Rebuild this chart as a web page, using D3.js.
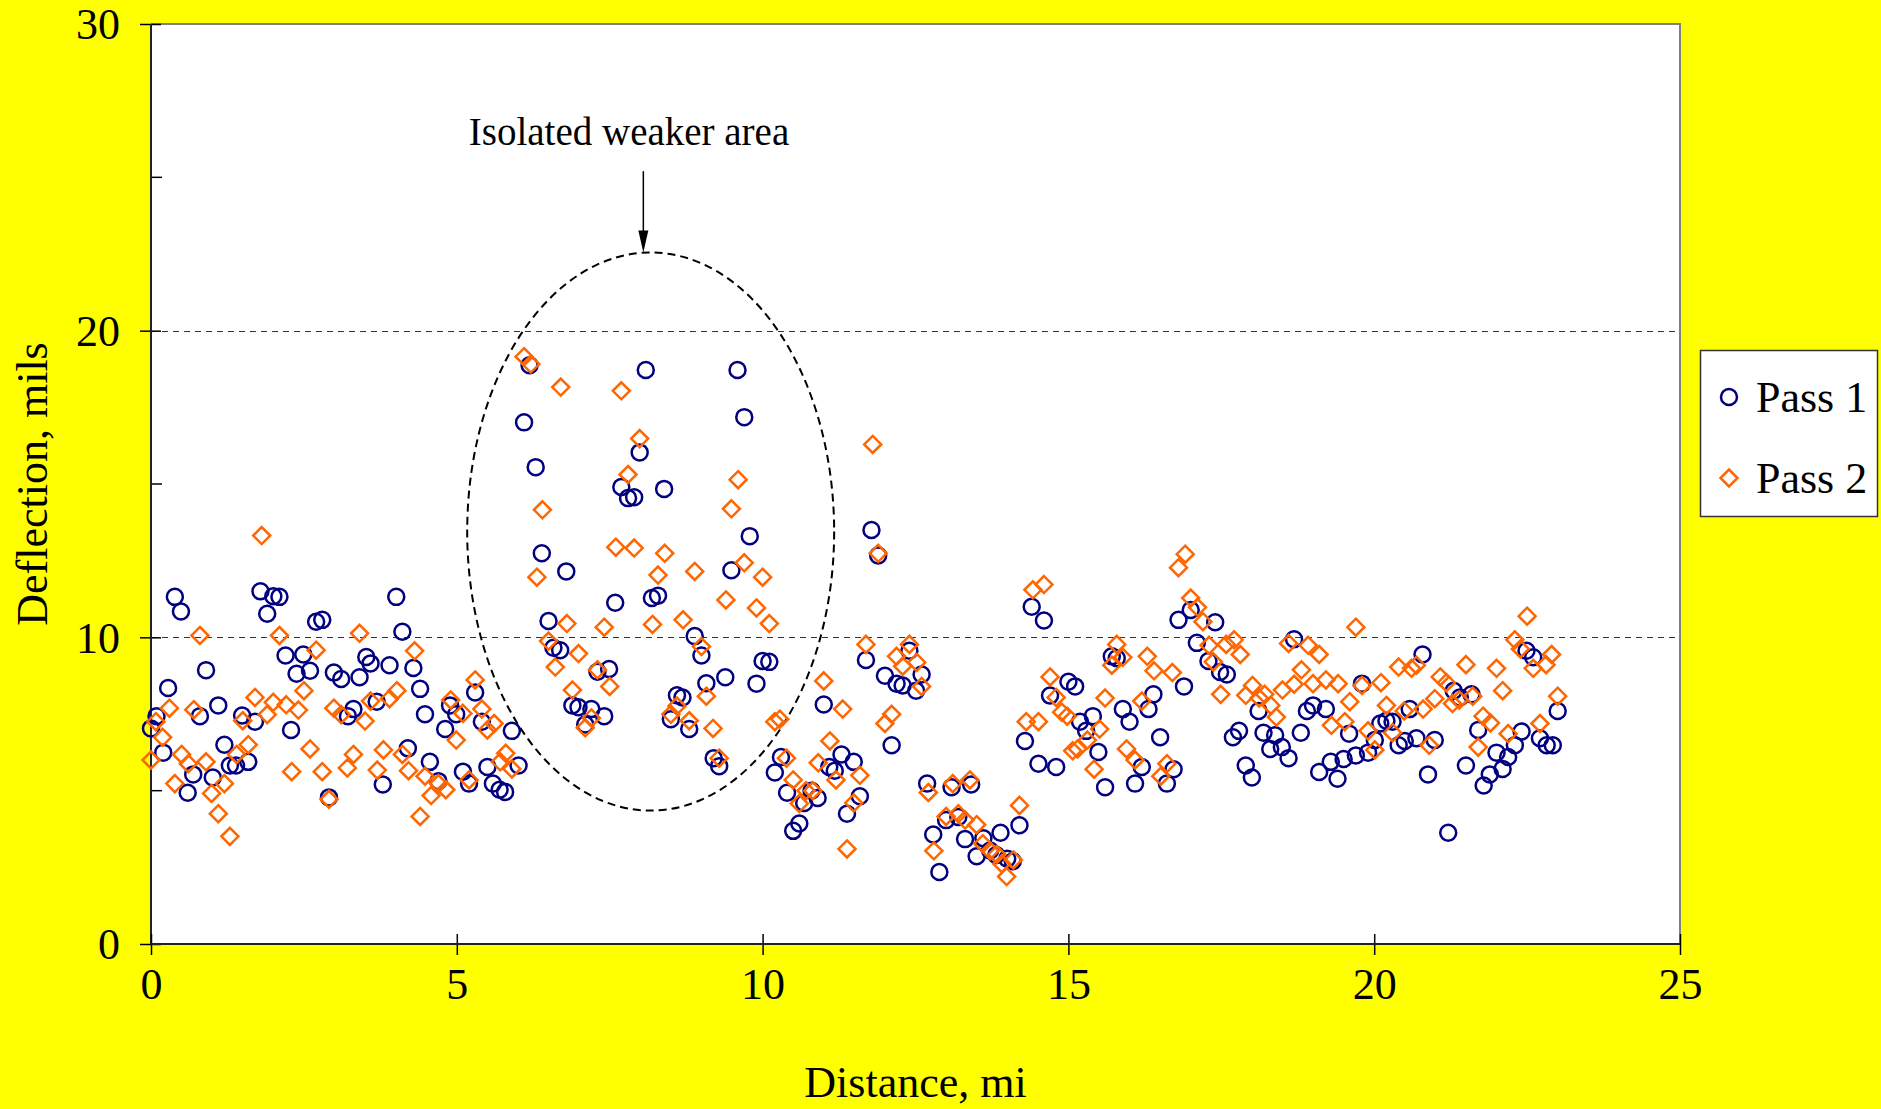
<!DOCTYPE html>
<html>
<head>
<meta charset="utf-8">
<script src="https://cdn.jsdelivr.net/npm/d3@7"></script>
<style>
  html, body { margin: 0; padding: 0; background: #ffff00; }
  svg { display: block; }
  text { font-family: "Liberation Serif", "Times New Roman", serif; fill: #000; }
</style>
</head>
<body>
<svg id="chart" width="1881" height="1109"></svg>
<script>
// Falling-weight deflection along the route, two passes
const pass1Distance = [0.0,0.09,0.2,0.28,0.39,0.49,0.6,0.69,0.8,0.9,1.01,1.1,1.2,1.29,1.39,1.49,1.59,1.7,1.79,1.9,2.0,2.1,2.2,2.29,2.38,2.49,2.6,2.7,2.8,2.91,2.99,3.11,3.22,3.31,3.41,3.52,3.59,3.69,3.79,3.9,4.01,4.11,4.2,4.29,4.4,4.48,4.56,4.7,4.81,4.89,4.99,5.1,5.2,5.3,5.41,5.5,5.59,5.7,5.79,5.9,6.01,6.1,6.19,6.29,6.39,6.5,6.58,6.69,6.79,6.89,6.99,7.1,7.2,7.3,7.41,7.49,7.59,7.69,7.8,7.9,7.99,8.09,8.19,8.29,8.39,8.5,8.6,8.69,8.8,8.89,9.0,9.08,9.2,9.29,9.39,9.49,9.59,9.7,9.79,9.9,10.0,10.11,10.2,10.3,10.4,10.5,10.6,10.68,10.8,10.9,11.0,11.09,11.18,11.29,11.38,11.49,11.59,11.69,11.78,11.89,12.0,12.11,12.19,12.29,12.4,12.51,12.6,12.69,12.79,12.89,13.0,13.09,13.2,13.31,13.41,13.5,13.61,13.72,13.82,13.89,14.0,14.09,14.2,14.29,14.4,14.51,14.6,14.7,14.8,15.0,15.11,15.19,15.29,15.4,15.49,15.6,15.71,15.79,15.89,16.0,16.09,16.2,16.31,16.39,16.5,16.61,16.72,16.8,16.89,17.0,17.1,17.29,17.4,17.48,17.59,17.69,17.79,17.9,18.0,18.11,18.19,18.3,18.38,18.49,18.6,18.69,18.8,18.9,19.0,19.1,19.21,19.29,19.4,19.5,19.59,19.7,19.8,19.9,20.01,20.1,20.2,20.3,20.4,20.5,20.58,20.69,20.79,20.88,20.99,21.21,21.3,21.4,21.5,21.59,21.7,21.79,21.89,22.0,22.1,22.19,22.3,22.41,22.49,22.6,22.71,22.82,22.92,23.0];
const pass1Deflection = [7.03,7.43,6.24,8.35,11.32,10.84,4.93,5.53,7.43,8.93,5.43,7.78,6.5,5.82,5.82,7.45,5.94,7.25,11.5,10.77,11.34,11.32,9.41,6.98,8.81,9.44,8.91,10.51,10.57,4.78,8.85,8.64,7.43,7.66,8.7,9.36,9.15,7.9,5.2,9.09,11.32,10.18,6.38,9.0,8.32,7.49,5.94,5.31,7.01,7.78,7.49,5.62,5.23,8.2,7.25,5.77,5.23,5.03,4.96,6.95,5.82,17.01,18.87,15.55,12.74,10.53,9.66,9.58,12.15,7.78,7.72,7.16,7.66,8.88,7.43,8.97,11.13,14.9,14.54,14.57,16.03,18.72,11.28,11.36,14.84,7.33,8.11,8.04,7.01,10.04,9.41,8.5,6.06,5.8,8.7,12.19,18.72,17.18,13.3,8.49,9.23,9.2,5.59,6.1,4.93,3.69,3.93,4.6,5.0,4.76,7.81,5.77,5.65,6.18,4.25,5.94,4.82,9.26,13.5,12.67,8.75,6.48,8.49,8.43,9.56,8.26,8.79,5.23,3.57,2.35,4.04,5.11,4.14,3.42,5.2,2.86,3.45,3.05,2.9,3.63,2.78,2.7,3.87,6.62,11.0,5.88,10.55,8.1,5.77,8.55,8.4,7.25,6.95,7.43,6.26,5.11,9.38,9.32,7.66,7.25,5.23,5.77,7.66,8.14,6.74,5.23,5.7,10.57,8.4,10.89,9.82,9.23,10.49,8.87,8.79,6.74,6.95,5.82,5.43,7.6,6.89,6.36,6.81,6.42,6.06,9.94,6.89,7.6,7.78,5.61,7.66,5.94,5.39,6.03,6.86,6.15,8.49,6.24,6.65,7.19,7.28,7.25,6.48,6.62,7.66,6.71,9.44,5.53,6.65,3.63,8.26,8.04,5.82,8.14,6.98,5.17,5.53,6.24,5.71,6.1,6.48,6.93,9.56,9.35,6.71,6.48,6.48,7.6];

const pass2Distance = [0.0,0.08,0.19,0.3,0.39,0.5,0.61,0.7,0.8,0.9,0.99,1.1,1.2,1.29,1.4,1.5,1.59,1.7,1.81,1.9,2.0,2.1,2.21,2.3,2.41,2.5,2.6,2.7,2.8,2.91,2.99,3.11,3.21,3.31,3.41,3.5,3.59,3.7,3.8,3.9,4.02,4.11,4.21,4.31,4.4,4.48,4.58,4.7,4.82,4.9,4.99,5.1,5.2,5.3,5.41,5.5,5.61,5.71,5.8,5.9,6.1,6.21,6.31,6.4,6.5,6.61,6.7,6.8,6.89,6.99,7.1,7.2,7.3,7.41,7.5,7.6,7.69,7.8,7.9,7.99,8.2,8.29,8.4,8.5,8.6,8.7,8.8,8.89,9.0,9.08,9.19,9.29,9.4,9.49,9.6,9.7,9.9,10.0,10.11,10.2,10.28,10.39,10.5,10.6,10.71,10.82,10.91,11.0,11.1,11.2,11.31,11.38,11.49,11.59,11.69,11.8,11.89,12.0,12.11,12.19,12.29,12.4,12.52,12.6,12.71,12.8,13.0,13.11,13.2,13.31,13.39,13.5,13.6,13.72,13.83,13.91,13.99,14.1,14.2,14.31,14.42,14.51,14.6,14.7,14.8,14.89,14.98,15.07,15.15,15.31,15.42,15.51,15.6,15.71,15.79,15.89,15.95,16.09,16.2,16.29,16.4,16.51,16.61,16.7,16.8,16.91,17.0,17.11,17.2,17.3,17.37,17.49,17.58,17.71,17.81,17.9,18.01,18.12,18.21,18.31,18.4,18.5,18.6,18.69,18.81,18.92,19.0,19.1,19.21,19.3,19.41,19.52,19.6,19.7,19.8,19.9,20.01,20.11,20.2,20.3,20.4,20.49,20.61,20.69,20.8,20.9,20.99,21.08,21.18,21.28,21.39,21.5,21.61,21.7,21.78,21.9,22.0,22.1,22.19,22.3,22.39,22.5,22.6,22.71,22.81,22.9,23.0];
const pass2Deflection = [6.0,7.25,6.74,7.69,5.23,6.18,5.88,7.64,10.06,5.94,4.91,4.25,5.23,3.51,6.18,7.28,6.5,8.04,13.32,7.48,7.88,10.06,7.8,5.62,7.63,8.26,6.36,9.58,5.62,4.72,7.69,7.48,5.74,6.18,10.13,7.27,7.92,5.67,6.33,8.0,8.26,6.18,5.65,9.56,4.16,5.47,4.84,5.23,5.03,7.96,6.65,7.52,5.35,8.61,7.66,6.98,7.19,5.94,6.22,5.71,19.15,18.91,11.96,14.16,9.88,9.03,18.16,10.45,8.28,9.47,7.05,7.37,8.94,10.33,8.4,12.94,18.04,15.31,12.91,16.48,10.42,12.03,12.74,7.49,7.76,10.57,7.28,12.15,9.7,8.08,7.03,6.06,11.22,14.19,15.14,12.43,10.96,11.96,10.45,7.25,7.33,6.06,5.35,4.58,5.0,5.0,5.91,8.58,6.62,5.35,7.66,3.1,4.6,5.5,9.77,16.29,12.74,7.19,7.49,9.38,9.06,9.77,9.18,8.4,4.94,3.04,4.16,5.23,4.25,4.04,5.35,3.89,3.27,3.04,2.92,2.62,2.2,2.74,4.52,7.25,11.55,7.25,11.72,8.71,8.04,7.56,7.43,6.3,6.36,6.65,5.7,7.01,8.02,9.09,9.77,9.35,6.36,6.0,7.92,9.38,8.91,5.47,5.88,8.85,12.27,12.71,11.28,10.98,10.51,9.74,9.2,8.14,9.77,9.92,9.44,8.11,8.43,8.02,8.14,7.78,7.4,8.28,9.8,8.47,8.94,9.74,8.49,9.44,8.61,7.13,8.49,7.25,7.9,10.33,8.43,6.95,6.33,8.52,7.78,6.89,9.03,7.6,8.99,9.09,7.66,6.48,8.0,8.71,8.52,7.84,7.96,9.11,8.08,6.42,7.43,7.21,8.99,8.26,6.86,9.92,9.62,10.69,8.99,7.19,9.11,9.44,8.08];

const xTickValues = [0, 5, 10, 15, 20, 25];
const yTickValues = [0, 10, 20, 30];
const yMinorTicks = [5, 15, 25];
const gridValues = [10, 20];
const seriesNames = ["Pass 1", "Pass 2"];

// weak-zone annotation, in data units (miles, mils)
const zoneCenter = [8.17, 13.45];
const zoneRadii = [3.0, 9.1];
const arrowFrom = [8.05, 25.2];
const noteText = "Isolated weaker area";

const svg = d3.select("#chart");
const plot = { left: 151, top: 24, right: 1680, bottom: 944 };

const x = d3.scaleLinear().domain([0, 25]).range([plot.left, plot.right]);
const y = d3.scaleLinear().domain([0, 30]).range([plot.bottom, plot.top]);

const navy = "#000080";
const orange = "#ff6600";

// plot area
svg.append("rect")
  .attr("x", plot.left).attr("y", plot.top)
  .attr("width", plot.right - plot.left).attr("height", plot.bottom - plot.top)
  .attr("fill", "#ffffff");

// frame: grey on top and right
svg.append("path")
  .attr("d", `M${plot.left},${plot.top}H${plot.right}V${plot.bottom}`)
  .attr("fill", "none").attr("stroke", "#808080").attr("stroke-width", 2);

// dashed gridlines
svg.append("g").selectAll("line").data(gridValues).join("line")
  .attr("x1", plot.left).attr("x2", plot.right)
  .attr("y1", d => Math.round(y(d)) + 0.5).attr("y2", d => Math.round(y(d)) + 0.5)
  .attr("stroke", "#333").attr("stroke-width", 1)
  .attr("stroke-dasharray", "6,5");

// y axis
const yAxis = svg.append("g").attr("transform", `translate(${plot.left},0)`)
  .call(d3.axisLeft(y).tickValues(yTickValues).tickSize(0).tickPadding(31).tickFormat(d3.format("d")));
yAxis.select(".domain").remove();
yAxis.selectAll("text").style("font-size", "44px").attr("dy", "0.34em")
  .style("font-family", '"Liberation Serif", serif');
yAxis.selectAll(".tick").append("line")
  .attr("x1", -11).attr("x2", 10).attr("stroke", "#000").attr("stroke-width", 1.5);
svg.append("g").selectAll("line").data(yMinorTicks).join("line")
  .attr("x1", plot.left).attr("x2", plot.left + 11)
  .attr("y1", d => y(d)).attr("y2", d => y(d))
  .attr("stroke", "#000").attr("stroke-width", 1.5);
svg.append("line")
  .attr("x1", plot.left).attr("x2", plot.left)
  .attr("y1", plot.top).attr("y2", plot.bottom)
  .attr("stroke", "#222").attr("stroke-width", 2);

// x axis
const xAxis = svg.append("g").attr("transform", `translate(0,${plot.bottom})`)
  .call(d3.axisBottom(x).tickValues(xTickValues).tickSize(0).tickPadding(55).tickFormat(d3.format("d")));
xAxis.select(".domain").remove();
xAxis.selectAll("text").style("font-size", "44px").attr("dy", "0")
  .style("font-family", '"Liberation Serif", serif');
xAxis.selectAll(".tick").append("line")
  .attr("y1", -10).attr("y2", 11).attr("stroke", "#000").attr("stroke-width", 1.5);
svg.append("line")
  .attr("x1", plot.left).attr("x2", plot.right)
  .attr("y1", plot.bottom).attr("y2", plot.bottom)
  .attr("stroke", "#222").attr("stroke-width", 2);

// axis titles
svg.append("text")
  .attr("x", (plot.left + plot.right) / 2).attr("y", 1097)
  .attr("text-anchor", "middle").style("font-size", "44px")
  .text("Distance, mi");
svg.append("text")
  .attr("transform", `translate(47,${(plot.top + plot.bottom) / 2}) rotate(-90)`)
  .attr("text-anchor", "middle").style("font-size", "44px")
  .text("Deflection, mils");

// weak-zone ellipse, arrow and note
svg.append("ellipse")
  .attr("cx", x(zoneCenter[0])).attr("cy", y(zoneCenter[1]))
  .attr("rx", x(zoneRadii[0]) - x(0)).attr("ry", y(0) - y(zoneRadii[1]))
  .attr("fill", "none").attr("stroke", "#000").attr("stroke-width", 2)
  .attr("stroke-dasharray", "8,5");

const arrowTipY = y(zoneCenter[1] + zoneRadii[1]);
const ax = x(arrowFrom[0]);
svg.append("line")
  .attr("x1", ax).attr("x2", ax)
  .attr("y1", y(arrowFrom[1])).attr("y2", arrowTipY - 12)
  .attr("stroke", "#000").attr("stroke-width", 1.5);
svg.append("path")
  .attr("d", `M${ax - 5},${arrowTipY - 22}L${ax + 5},${arrowTipY - 22}L${ax},${arrowTipY}Z`)
  .attr("fill", "#000");
svg.append("text")
  .attr("x", 629).attr("y", 145)
  .attr("text-anchor", "middle").style("font-size", "39px")
  .text(noteText);

// markers
const diamond = (r) => `M0,${-r}L${r},0L0,${r}L${-r},0Z`;
const pass1 = pass1Distance.map((d, i) => [d, pass1Deflection[i]]);
const pass2 = pass2Distance.map((d, i) => [d, pass2Deflection[i]]);

svg.append("g").selectAll("circle").data(pass1).join("circle")
  .attr("cx", d => x(d[0])).attr("cy", d => y(d[1])).attr("r", 8)
  .attr("fill", "none").attr("stroke", navy).attr("stroke-width", 2.5);

svg.append("g").selectAll("path").data(pass2).join("path")
  .attr("transform", d => `translate(${x(d[0])},${y(d[1])})`)
  .attr("d", diamond(8.5))
  .attr("fill", "none").attr("stroke", orange).attr("stroke-width", 2.5);

// legend
const legend = svg.append("g");
legend.append("rect")
  .attr("x", 1700.5).attr("y", 350.5).attr("width", 177).attr("height", 166)
  .attr("fill", "#fff").attr("stroke", "#333").attr("stroke-width", 1.5);
const legRows = [397, 478];
legend.append("circle").attr("cx", 1729).attr("cy", legRows[0]).attr("r", 8)
  .attr("fill", "none").attr("stroke", navy).attr("stroke-width", 2.5);
legend.append("path").attr("transform", `translate(1729,${legRows[1]})`).attr("d", diamond(8.5))
  .attr("fill", "none").attr("stroke", orange).attr("stroke-width", 2.5);
legend.selectAll("text").data(seriesNames).join("text")
  .attr("x", 1756).attr("y", (d, i) => legRows[i]).attr("dy", "0.34em")
  .style("font-size", "44px").text(d => d);
</script>
</body>
</html>
